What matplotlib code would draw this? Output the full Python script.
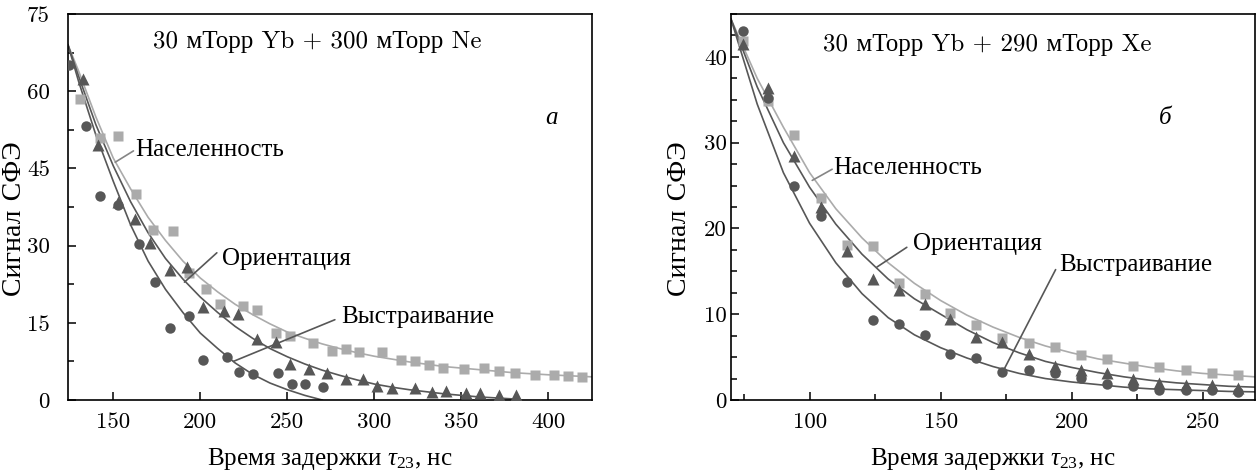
import numpy as np
import matplotlib
matplotlib.use("Agg")
import matplotlib.pyplot as plt
from matplotlib.ticker import MultipleLocator

plt.rcParams['font.family'] = ['cmr10', 'Liberation Serif', 'DejaVu Serif']
plt.rcParams['mathtext.fontset'] = 'custom'
plt.rcParams['mathtext.rm'] = 'Liberation Serif'
plt.rcParams['mathtext.it'] = 'Liberation Serif:italic'

# ---- panel a: 30 mTorr Yb + 300 mTorr Ne ----
a_pop_t = [130.7, 142.5, 152.5, 163.2, 172.7, 184.4, 193.4, 203.5, 211.4, 224.5, 232.4, 243.4,
           251.5, 264.5, 275.4, 283.6, 291.4, 304.5, 315.3, 323.5, 331.1, 339.4, 351.4, 362.9,
           371.5, 380.5, 392.5, 403.0, 411.5, 419.3]
a_pop_v = [58.4, 51.0, 51.2, 40.1, 33.0, 32.8, 24.6, 21.5, 18.7, 18.3, 17.4, 13.0,
           12.5, 11.1, 9.6, 10.0, 9.3, 9.4, 7.8, 7.5, 6.8, 6.3, 6.0, 6.2,
           5.7, 5.3, 4.9, 4.9, 4.7, 4.5]
a_ori_t = [132.4, 141.2, 153.0, 162.4, 171.0, 182.5, 192.1, 201.8, 213.6, 221.9, 232.4, 243.5,
           251.5, 262.6, 272.5, 283.5, 293.5, 301.5, 310.4, 323.2, 333.3, 341.3, 352.4, 360.4,
           371.5, 381.5]
a_ori_v = [62.3, 49.5, 38.5, 35.1, 30.6, 25.3, 25.8, 18.0, 17.3, 16.7, 11.8, 11.2,
           7.0, 6.0, 5.3, 4.1, 4.0, 2.8, 2.3, 2.3, 1.6, 1.8, 1.3, 1.3,
           1.0, 1.0]
a_ali_t = [124.8, 134.5, 142.5, 153.0, 164.5, 174.1, 182.7, 193.6, 201.4, 215.6, 222.4, 230.5,
           244.4, 252.8, 260.3, 270.2]
a_ali_v = [65.1, 53.2, 39.7, 37.8, 30.4, 23.0, 13.9, 16.3, 7.8, 8.4, 5.4, 5.1,
           5.2, 3.1, 3.1, 2.6]

# fitted curves
a_pop_ft = [124, 130, 140, 150, 160, 170, 180, 190, 200, 210, 220, 230, 240, 250, 260, 270,
            280, 290, 300, 320, 340, 360, 380, 400, 425]
a_pop_fv = [69, 64, 55, 47, 41, 35.5, 31, 27, 23.7, 21, 18.6, 16.6, 14.8, 13.2, 12, 10.9,
            10, 9.2, 8.5, 7.4, 6.5, 5.9, 5.3, 4.9, 4.5]
a_ori_ft = [124, 130, 140, 150, 160, 170, 180, 190, 200, 210, 220, 230, 240, 250, 260, 270,
            280, 290, 300, 310, 320, 330, 340, 350, 360, 370, 380]
a_ori_fv = [69, 63, 53.5, 45.5, 38.5, 32.5, 27.5, 23.5, 20, 17, 14.3, 12, 10, 8.4, 7, 5.8,
            4.8, 3.9, 3.1, 2.5, 2, 1.6, 1.2, 0.9, 0.6, 0.4, 0.2]
a_ali_ft = [124, 130, 140, 150, 160, 170, 180, 190, 200, 210, 220, 230, 240, 250, 260, 270]
a_ali_fv = [69, 62, 51.5, 42.5, 34, 27, 21.5, 17, 13, 10, 7.2, 5, 3.3, 2, 0.9, 0]

# ---- panel b: 30 mTorr Yb + 290 mTorr Xe ----
b_t = [74.4, 84.1, 94.1, 104.2, 114.3, 124.2, 134.0, 143.9, 153.7, 163.6, 173.5, 183.6,
       193.5, 203.7, 213.7, 223.5, 233.5, 243.5, 253.4, 263.5]
b_pop_v = [41.8, 34.9, 30.9, 23.6, 18.1, 17.9, 13.6, 12.3, 10.2, 8.8, 7.2, 6.6,
           6.2, 5.2, 4.8, 4.0, 3.8, 3.5, 3.2, 2.9]
b_ori_v = [41.5, 36.4, 28.4, 22.5, 17.4, 14.1, 12.8, 11.2, 9.4, 7.4, 6.8, 5.4,
           4.0, 3.5, 3.2, 2.5, 2.0, 1.7, 1.7, 1.4]
b_ali_v = [43.0, 35.2, 25.0, 21.4, 13.8, 9.3, 8.9, 7.6, 5.4, 4.85, 3.3, 3.5,
           3.1, 2.6, 1.9, 1.6, 1.2, 1.2, 1.2, 0.9]

b_ft = [70, 80, 90, 100, 110, 120, 130, 140, 150, 160, 170, 180, 190, 200, 210, 220, 230,
        240, 250, 260, 270]
b_pop_fv = [44.4, 37.5, 31.8, 26.5, 22.3, 18.9, 16, 13.6, 11.6, 9.9, 8.5, 7.3, 6.3, 5.5,
            4.8, 4.3, 3.8, 3.4, 3.1, 2.9, 2.7]
b_ori_fv = [44.4, 36.5, 30, 24.8, 20.5, 17, 14.1, 11.8, 10.0, 8.2, 6.7, 5.5, 4.5, 3.8,
            3.2, 2.7, 2.3, 2.0, 1.8, 1.6, 1.5]
b_ali_fv = [44.4, 34.5, 26.5, 20.6, 16.0, 12.4, 9.6, 7.6, 6.1, 4.9, 3.9, 3.1, 2.5, 2.1,
            1.8, 1.5, 1.3, 1.2, 1.1, 1.0, 0.95]

lbl_pop = "Населенность"
lbl_ori = "Ориентация"
lbl_ali = "Выстраивание"

dark = "#575757"
light = "#ababab"
fs_tick = 16.5
fs = 18

fig = plt.figure(figsize=(12.57, 4.75), dpi=100)
ax1 = fig.add_axes([68 / 1257, 75 / 475, 524 / 1257, 386 / 475])
ax2 = fig.add_axes([731 / 1257, 75 / 475, 524 / 1257, 386 / 475])


def draw(ax, pop, ori, ali, fits):
    (pt, pv), (ot, ov), (at, av) = pop, ori, ali
    (pft, pfv), (oft, ofv), (aft, afv) = fits
    ax.plot(pft, pfv, color=light, lw=1.2, zorder=2)
    ax.plot(oft, ofv, color=dark, lw=1.2, zorder=2)
    ax.plot(aft, afv, color=dark, lw=1.2, zorder=2)
    ax.plot(pt, pv, 's', color=light, ms=6.5, mec='none', zorder=3)
    ax.plot(ot, ov, '^', color=dark, ms=8, mec='none', zorder=4)
    ax.plot(at, av, 'o', color=dark, ms=7.5, mec='none', zorder=5)
    for s in ax.spines.values():
        s.set_linewidth(1.2)
    ax.tick_params(which='both', direction='in', top=False, right=False, labelsize=fs_tick)
    ax.tick_params(which='major', length=6, width=1.1)
    ax.tick_params(which='minor', length=4, width=1.1)


def leader(ax, text, tip, start, txt, col=dark):
    ax.annotate("", xy=tip, xytext=start,
                arrowprops=dict(arrowstyle='-', color=col, lw=1.2, shrinkA=0, shrinkB=0))
    ax.text(txt[0], txt[1], text, fontsize=fs, ha='left', va='center')


draw(ax1, (a_pop_t, a_pop_v), (a_ori_t, a_ori_v), (a_ali_t, a_ali_v),
     ((a_pop_ft, a_pop_fv), (a_ori_ft, a_ori_fv), (a_ali_ft, a_ali_fv)))
ax1.set_xlim(124, 425)
ax1.set_ylim(0, 75)
ax1.set_xticks([150, 200, 250, 300, 350, 400])
ax1.set_yticks([0, 15, 30, 45, 60, 75])
ax1.yaxis.set_minor_locator(MultipleLocator(7.5))
ax1.tick_params(axis='y', pad=13)
ax1.tick_params(axis='x', pad=9)
ax1.text(0.162, 0.927, "30 мТорр Yb + 300 мТорр Ne", transform=ax1.transAxes,
         fontsize=fs, ha='left', va='center')
ax1.text(0.922, 0.731, "a", transform=ax1.transAxes, fontsize=fs, style='italic',
         family='Liberation Serif', ha='center', va='center')
leader(ax1, lbl_pop, (151.1, 46.2), (161.6, 48.4), (162.5, 48.6), col="#858585")
leader(ax1, lbl_ori, (190.9, 22.9), (209.5, 28.6), (212.3, 27.5))
leader(ax1, lbl_ali, (219, 7.5), (277.3, 15.6), (281.1, 16.2))

draw(ax2, (b_t, b_pop_v), (b_t, b_ori_v), (b_t, b_ali_v),
     ((b_ft, b_pop_fv), (b_ft, b_ori_fv), (b_ft, b_ali_fv)))
ax2.set_xlim(70, 270)
ax2.set_ylim(0, 45)
ax2.set_xticks([100, 150, 200, 250])
ax2.xaxis.set_minor_locator(MultipleLocator(25))
ax2.set_yticks([0, 10, 20, 30, 40])
ax2.yaxis.set_minor_locator(MultipleLocator(2.5))
ax2.tick_params(axis='y', pad=3)
ax2.tick_params(axis='x', pad=9)
ax2.text(0.175, 0.92, "30 мТорр Yb + 290 мТорр Xe", transform=ax2.transAxes,
         fontsize=fs, ha='left', va='center')
ax2.text(0.828, 0.731, "б", transform=ax2.transAxes, fontsize=fs, style='italic',
         family='Liberation Serif', ha='center', va='center')
leader(ax2, lbl_pop, (101, 25.6), (108.6, 26.9), (109.2, 27.1), col="#858585")
leader(ax2, lbl_ori, (125.7, 15.5), (137.1, 17.8), (139.4, 18.2))
leader(ax2, lbl_ali, (174.1, 3.5), (193.9, 15.2), (195.4, 15.7))

for ax, lx in [(ax1, -0.078), (ax2, -0.074)]:
    ax.set_xlabel("Время задержки $\\tau_{23}$, нс", fontsize=fs, family='Liberation Serif')
    ax.set_ylabel("Сигнал СФЭ", fontsize=20)
    ax.xaxis.set_label_coords(0.5, -0.12)
    ax.yaxis.set_label_coords(lx, 0.47)

fig.savefig("out.png", dpi=100)
